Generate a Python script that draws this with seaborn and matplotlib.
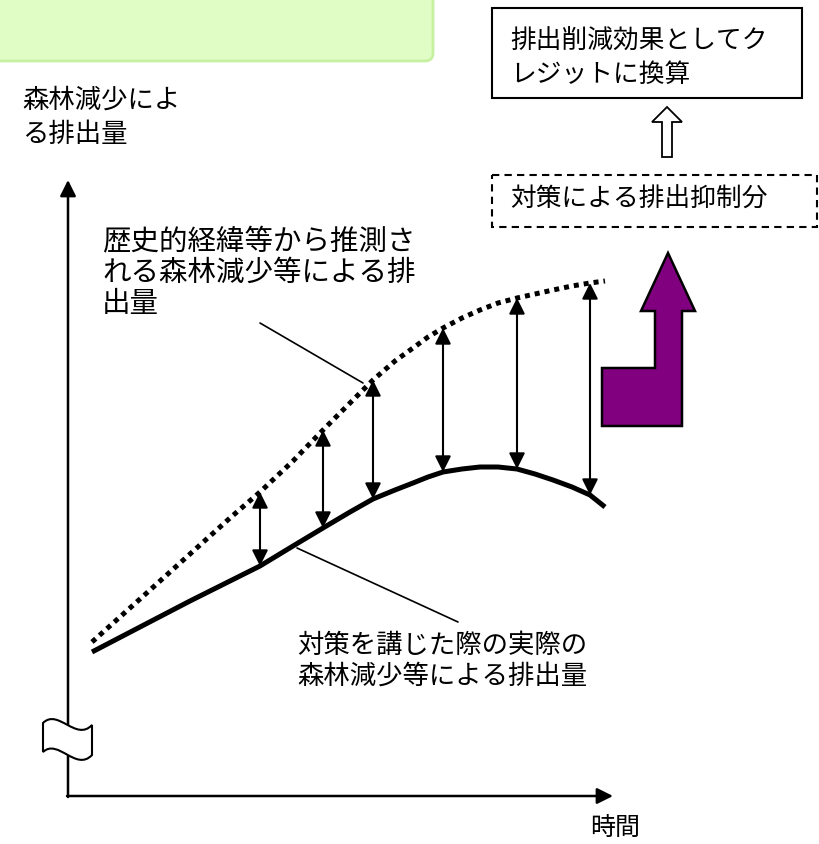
import numpy as np
import pandas as pd
import matplotlib
matplotlib.use('Agg')
import matplotlib.pyplot as plt
import seaborn as sns
from matplotlib.patches import Polygon, Rectangle, FancyBboxPatch, PathPatch
from matplotlib.path import Path

sns.set_theme(style='white')
plt.rcParams['font.family'] = ['Noto Sans CJK JP', 'DejaVu Sans']

# conceptual curves (x = time, y = emissions, screen units, y grows downward)
t = [92, 140, 190, 230, 260, 293, 323, 350, 373, 395, 413, 428, 443, 462,
     480, 498, 517, 535, 553, 572, 590, 605]
baseline = [642, 599, 554, 518, 492, 461, 430, 403, 380, 361, 348, 337, 328, 318,
            310, 303, 298, 294, 290, 286, 283, 281]
actual = [652, 627, 601, 581, 566, 546, 528, 512, 499, 490, 483, 477, 472, 469,
          467, 467, 469, 474, 480, 487, 495, 507]
gap_idx = [4, 6, 8, 12, 16, 20]  # where the double arrows sit

# labels
y_label = ['森林減少によ', 'る排出量']
x_label = '時間'
base_label = ['歴史的経緯等から推測さ', 'れる森林減少等による排', '出量']
act_label = ['対策を講じた際の実際の', '森林減少等による排出量']
credit_label = ['排出削減効果としてク', 'レジットに換算']
cut_label = '対策による排出抑制分'

df = pd.DataFrame({'t': t, 'baseline': baseline, 'actual': actual})

fig = plt.figure(figsize=(8.2, 8.44), dpi=100)
ax = fig.add_axes([0, 0, 1, 1])

# curves
sns.lineplot(data=df, x='t', y='baseline', ax=ax, color='black', lw=3.6,
             linestyle=(0, (1, 1)), dash_capstyle='butt', estimator=None, sort=False)
sns.lineplot(data=df, x='t', y='actual', ax=ax, color='black', lw=3.6,
             solid_capstyle='butt', solid_joinstyle='round', estimator=None, sort=False)

ax.set_xlim(0, 820)
ax.set_ylim(844, 0)
ax.axis('off')

arrow_kw = dict(arrowstyle='<|-|>', mutation_scale=24, lw=1.5, color='black',
                shrinkA=0, shrinkB=0)
for i in gap_idx:
    ax.annotate('', xy=(t[i], actual[i]), xytext=(t[i], baseline[i]), arrowprops=arrow_kw)

# axes with arrow heads
axis_kw = dict(arrowstyle='-|>', mutation_scale=24, lw=1.8, color='black',
               shrinkA=0, shrinkB=0)
ax.annotate('', xy=(68, 180), xytext=(68, 797), arrowprops=axis_kw)
ax.annotate('', xy=(613, 796), xytext=(67, 796), arrowprops=axis_kw)

# axis break symbol
verts = [(43, 723), (58, 708), (76, 742), (92, 725),
         (92, 755), (76, 772), (58, 738), (43, 752), (43, 723)]
codes = [Path.MOVETO, Path.CURVE4, Path.CURVE4, Path.CURVE4,
         Path.LINETO, Path.CURVE4, Path.CURVE4, Path.CURVE4, Path.CLOSEPOLY]
ax.add_patch(PathPatch(Path(verts, codes), fc='white', ec='black', lw=1.5, zorder=5))

# leader lines
ax.plot([260, 363], [323, 383], color='black', lw=1.2)
ax.plot([297, 458], [548, 622], color='black', lw=1.2)

# green header box
ax.add_patch(FancyBboxPatch((-20, -30), 453, 91, boxstyle='round,pad=0,rounding_size=8',
                            fc='#E1FDC6', ec='#C6F1A0', lw=2))

# credit box and dashed box
ax.add_patch(Rectangle((492, 8), 310, 90, fc='white', ec='black', lw=1.5))
ax.add_patch(Rectangle((492, 175), 325, 52, fc='none', ec='black', lw=1.5,
                       linestyle=(0, (3.5, 2.5))))

# hollow up arrow
ax.add_patch(Polygon([(667, 107), (682, 122), (672, 122), (672, 157), (662, 157),
                      (662, 122), (652, 122)], closed=True, fc='white', ec='black', lw=1.3))

# purple bent arrow
ax.add_patch(Polygon([(668, 253), (695, 311), (682, 311), (682, 426), (602, 426),
                      (602, 368), (655, 368), (655, 311), (641, 311)], closed=True,
                     fc='#800080', ec='black', lw=1.8, joinstyle='miter'))

# texts
for k, s in enumerate(y_label):
    ax.text(22, 100 + 35 * k, s, fontsize=19, va='center', ha='left', color='black')
ax.text(590, 828, x_label, fontsize=18, va='center', ha='left', color='black')
for k, s in enumerate(base_label):
    ax.text(102, 242 + 31 * k, s, fontsize=20.5, va='center', ha='left', color='black')
for k, s in enumerate(act_label):
    ax.text(297, 645 + 31 * k, s, fontsize=19, va='center', ha='left', color='black')
for k, s in enumerate(credit_label):
    ax.text(510, 42 + 33 * k, s, fontsize=18.5, va='center', ha='left', color='black')
ax.text(510, 200, cut_label, fontsize=18.5, va='center', ha='left', color='black')

fig.savefig('out.png', dpi=100)
